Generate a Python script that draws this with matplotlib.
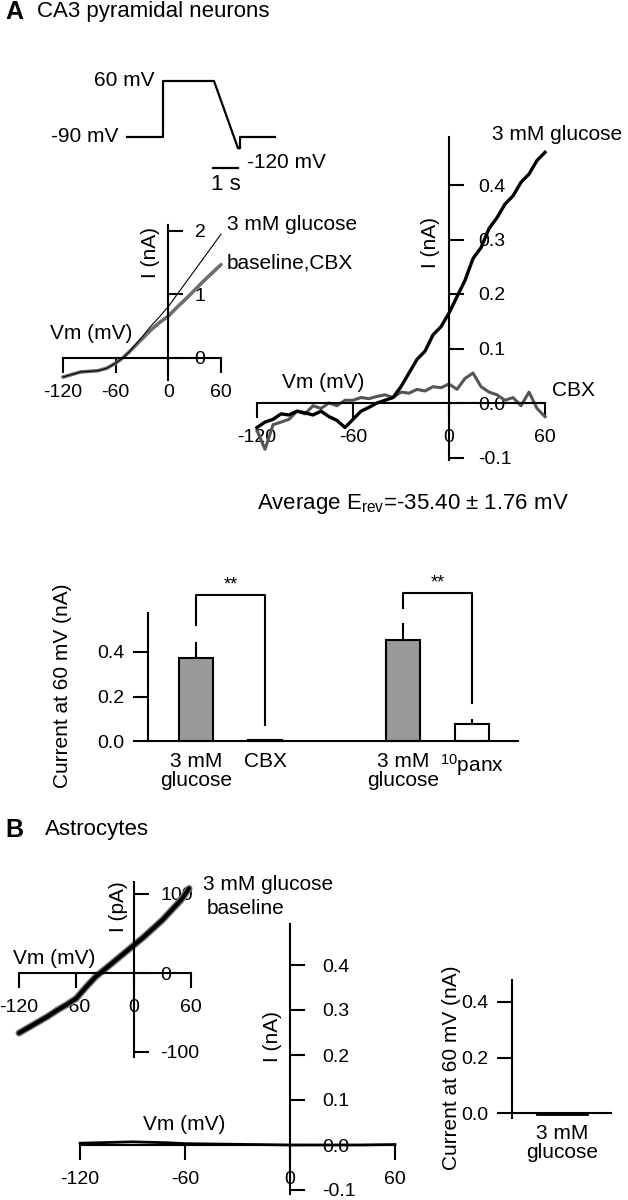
"""Glucose-evoked currents in CA3 neurons and astrocytes (IV curves + bar summaries)."""
import matplotlib
matplotlib.use("Agg")
import matplotlib.pyplot as plt  # noqa: E402

plt.rcParams["font.family"] = ["Liberation Sans", "DejaVu Sans"]
plt.rcParams["mathtext.fontset"] = "custom"
plt.rcParams["mathtext.rm"] = "Liberation Sans"
plt.rcParams["mathtext.it"] = "Liberation Sans:italic"
plt.rcParams["mathtext.bf"] = "Liberation Sans:bold"

W, H = 628, 1200
LABEL = 15
TICK = 14

# ---- data -------------------------------------------------------------
# voltage protocol (s, mV)
proto_t = [0, 1.44, 1.44, 3.48, 4.44, 4.52, 4.52, 5.92]
proto_v = [-90, -90, 60, 60, -120, -120, -90, -90]

# A, inset: whole-cell ramps (mV, nA)
a_in_v = [-120, -110, -100, -90, -80, -70, -60, -52, -45, -40, -30, -20, -10, 0, 10, 20, 30, 40, 50, 60]
a_in_glucose = [-0.30, -0.26, -0.22, -0.21, -0.20, -0.16, -0.08, 0.0, 0.09, 0.17, 0.33, 0.50, 0.65, 0.81,
                1.00, 1.19, 1.38, 1.57, 1.76, 1.95]
a_in_baseline = [-0.30, -0.26, -0.22, -0.21, -0.20, -0.16, -0.08, 0.0, 0.09, 0.16, 0.30, 0.44, 0.56, 0.66,
                 0.80, 0.93, 1.07, 1.21, 1.34, 1.47]

# A, subtracted currents (mV, nA)
a_v = [-120, -115, -110, -105, -100, -95, -90, -85, -80, -75, -70, -65, -60, -55, -50, -45, -40, -35,
       -30, -25, -20, -15, -10, -5, 0, 5, 10, 15, 20, 25, 30, 35, 40, 45, 50, 55, 60]
a_glucose = [-0.045, -0.035, -0.030, -0.020, -0.022, -0.015, -0.018, -0.022, -0.015, -0.025, -0.032, -0.045,
             -0.030, -0.015, -0.008, 0.000, 0.005, 0.010, 0.030, 0.055, 0.080, 0.095, 0.125, 0.140, 0.165,
             0.195, 0.225, 0.265, 0.285, 0.320, 0.340, 0.365, 0.380, 0.405, 0.420, 0.445, 0.460]
a_cbx = [-0.050, -0.085, -0.040, -0.035, -0.030, -0.015, -0.020, -0.005, -0.010, 0.000, -0.005, 0.005,
         0.005, 0.010, 0.008, 0.012, 0.015, 0.010, 0.020, 0.018, 0.025, 0.022, 0.030, 0.028, 0.035,
         0.025, 0.045, 0.055, 0.030, 0.020, 0.015, 0.005, 0.010, -0.005, 0.020, -0.010, -0.025]

# A, current at +60 mV
a_bar_labels = ["3 mM\nglucose", "CBX", "3 mM\nglucose", "${}^{10}$panx"]
a_bar_pos = [0, 1, 3, 4]
a_bar_mean = [0.375, 0.004, 0.455, 0.076]
a_bar_sem = [0.07, 0.0, 0.075, 0.024]
a_bar_fill = ["#999999", "white", "#999999", "white"]
a_pairs = [(0, 1), (2, 3)]
a_pair_starts = [(0.52, 0.07), (0.60, 0.17)]
a_pair_top = [0.655, 0.665]
a_pair_text = ["**", "**"]

# B, astrocyte inset (mV, pA)
b_in_v = [-120, -110, -100, -90, -80, -70, -60, -50, -40, -35, -30, -20, -10, 0, 10, 20, 30, 40, 50, 58]
b_in_i = [-76, -69, -62, -55, -47, -40, -32, -18, -5, 0, 5, 15, 25, 35, 45, 56, 67, 80, 93, 107]

# B, subtracted current (mV, nA)
b_v = [-120, -110, -100, -90, -80, -70, -60, -40, -20, 0, 20, 40, 60]
b_i = [0.004, 0.005, 0.006, 0.007, 0.006, 0.005, 0.003, 0.002, 0.001, 0.000, 0.000, 0.000, 0.001]

# B, current at +60 mV
b_bar_labels = ["3 mM\nglucose"]
b_bar_mean = [-0.003]

# ---- helpers ----------------------------------------------------------
fig = plt.figure(figsize=(W / 100, H / 100), dpi=100)


def place(xmap, ymap, xlim, ylim):
    """Add axes so that data values land on the given pixel positions."""
    (xa, pxa), (xb, pxb) = xmap
    sx = (pxb - pxa) / (xb - xa)
    left = pxa + (xlim[0] - xa) * sx
    right = pxa + (xlim[1] - xa) * sx
    (ya, pya), (yb, pyb) = ymap
    sy = (pyb - pya) / (yb - ya)
    top = pya + (ylim[1] - ya) * sy
    bottom = pya + (ylim[0] - ya) * sy
    ax = fig.add_axes([left / W, 1 - bottom / H, (right - left) / W, (bottom - top) / H])
    ax.set_xlim(xlim)
    ax.set_ylim(ylim)
    ax.patch.set_visible(False)
    return ax


def ftext(x, y, s, size=LABEL, **kw):
    kw.setdefault("va", "center")
    return fig.text(x / W, 1 - y / H, s, fontsize=size, **kw)


def iv_style(ax, xticks, yticks, ylabels, ybounds):
    for s in ("left", "top"):
        ax.spines[s].set_visible(False)
    ax.spines["right"].set_position(("data", 0))
    ax.spines["bottom"].set_position(("data", 0))
    ax.spines["right"].set_bounds(*ybounds)
    ax.spines["bottom"].set_bounds(xticks[0], xticks[-1])
    for s in ("right", "bottom"):
        ax.spines[s].set_linewidth(1.5)
    ax.yaxis.set_ticks_position("right")
    ax.xaxis.set_ticks_position("bottom")
    ax.set_xticks(xticks, [str(v) for v in xticks])
    ax.set_yticks(yticks, ylabels)
    ax.tick_params(direction="out", length=11, width=1.5, labelsize=TICK, pad=8)


def bar_style(ax, ybounds, yticks):
    for s in ("right", "top"):
        ax.spines[s].set_visible(False)
    ax.spines["bottom"].set_position(("data", 0))
    ax.spines["left"].set_bounds(*ybounds)
    for s in ("left", "bottom"):
        ax.spines[s].set_linewidth(1.5)
    ax.set_yticks(yticks, [f"{v:.1f}" for v in yticks])
    ax.tick_params(axis="y", direction="out", length=11, width=1.5, labelsize=TICK, pad=6)
    ax.tick_params(axis="x", length=0, labelsize=LABEL, pad=8)
    for lbl in ax.get_xticklabels():
        lbl.set_linespacing(1.0)


# ---- panel A ----------------------------------------------------------
ftext(5, 12, "A", size=18, weight="bold")
ftext(37, 12, "CA3 pyramidal neurons", size=16)

axp = place(((0, 127), (1, 152)), ((60, 81), (-90, 137)), (-0.2, 6.2), (-185, 70))
axp.plot(proto_t, proto_v, color="black", lw=1.6)
axp.plot([3.44, 4.44], [-173, -173], color="black", lw=1.6)  # 1 s scale bar
axp.axis("off")
ftext(155, 81, "60 mV", ha="right")
ftext(118, 137, "-90 mV", ha="right")
ftext(247, 162, "-120 mV", ha="left")
ftext(226, 184, "1 s", ha="center", size=16)

# inset IV
ax1 = place(((-120, 63), (60, 221)), ((0, 358), (2, 231)), (-125, 65), (-0.4, 2.15))
ax1.plot(a_in_v, a_in_baseline, color="#6e6e6e", lw=2.6, solid_capstyle="round")
ax1.plot(a_in_v, a_in_glucose, color="black", lw=0.8)
iv_style(ax1, [-120, -60, 0, 60], [0, 1, 2], ["0", "1", "2"], (-0.35, 2.1))
ftext(50, 333, "Vm (mV)", ha="left")
ftext(150, 252, "I (nA)", rotation=90, ha="center")
ftext(227, 225, "3 mM glucose", ha="left")
ftext(227, 263, "baseline,CBX", ha="left")

# subtracted IV
ax2 = place(((-120, 257), (60, 545)), ((0, 403), (0.4, 185)), (-125, 65), (-0.12, 0.5))
ax2.plot(a_v, a_cbx, color="#555555", lw=2.2)
ax2.plot(a_v, a_glucose, color="black", lw=2.4)
iv_style(ax2, [-120, -60, 0, 60], [-0.1, 0.0, 0.1, 0.2, 0.3, 0.4],
         ["-0.1", "0.0", "0.1", "0.2", "0.3", "0.4"], (-0.105, 0.488))
ax2.tick_params(axis="y", pad=10)
ftext(282, 383, "Vm (mV)", ha="left")
ftext(430, 242, "I (nA)", rotation=90, ha="center")
ftext(492, 135, "3 mM glucose", ha="left")
ftext(552, 390, "CBX", ha="left")
ftext(257, 504, r"Average E$_{\mathrm{rev}}$=-35.40 ± 1.76 mV", ha="left", size=16)

# bars
ax3 = place(((0, 196), (1, 265)), ((0, 741), (0.2, 696.5)), (-0.696, 4.67), (-0.02, 0.75))
ax3.bar(a_bar_pos, a_bar_mean, width=0.48, color=a_bar_fill, edgecolor="black", lw=1.5,
        yerr=[[0] * len(a_bar_sem), a_bar_sem], error_kw=dict(capsize=0, elinewidth=1.5))
for (i, j), (s0, s1), top, txt in zip(a_pairs, a_pair_starts, a_pair_top, a_pair_text):
    xi, xj = a_bar_pos[i], a_bar_pos[j]
    ax3.plot([xi, xi, xj, xj], [s0, top, top, s1], color="black", lw=1.5)
    ax3.text((xi + xj) / 2, top + 0.045, txt, ha="center", va="center", fontsize=13)
ax3.set_xticks(a_bar_pos, a_bar_labels)
bar_style(ax3, (0, 0.575), [0.0, 0.2, 0.4])
ftext(62, 686, "Current at 60 mV (nA)", rotation=90, ha="center")

# ---- panel B ----------------------------------------------------------
ftext(5, 830, "B", size=18, weight="bold")
ftext(45, 830, "Astrocytes", size=16)

ax4 = place(((-120, 19), (60, 191)), ((0, 973), (100, 894)), (-125, 65), (-115, 120))
ax4.plot(b_in_v, b_in_i, color="#777777", lw=5, solid_capstyle="round")
ax4.plot(b_in_v, b_in_i, color="black", lw=3, solid_capstyle="round")
iv_style(ax4, [-120, -60, 0, 60], [-100, 0, 100], ["-100", "0", "100"], (-106, 115))
ftext(13, 959, "Vm (mV)", ha="left")
ftext(118, 907, "I (pA)", rotation=90, ha="center")
ftext(203, 884, "3 mM glucose", ha="left")
ftext(207, 909, "baseline", ha="left")

ax5 = place(((-120, 80), (60, 395)), ((0, 1145), (0.4, 965)), (-125, 65), (-0.115, 0.5))
ax5.plot(b_v, b_i, color="black", lw=2)
iv_style(ax5, [-120, -60, 0, 60], [-0.1, 0.0, 0.1, 0.2, 0.3, 0.4],
         ["-0.1", "0.0", "0.1", "0.2", "0.3", "0.4"], (-0.109, 0.491))
ax5.tick_params(axis="y", pad=12)
ftext(143, 1125, "Vm (mV)", ha="left")
ftext(272, 1037, "I (nA)", rotation=90, ha="center")

ax6 = place(((0, 562), (1, 662)), ((0, 1113), (0.2, 1057.5)), (-0.5, 0.49), (-0.03, 0.5))
ax6.bar([0], b_bar_mean, width=0.5, color="#999999", edgecolor="black", lw=2)
ax6.set_xticks([0], b_bar_labels)
bar_style(ax6, (-0.018, 0.48), [0.0, 0.2, 0.4])
ftext(452, 1068, "Current at 60 mV (nA)", rotation=90, ha="center")

fig.savefig("out.png", dpi=100)
plt.close(fig)
